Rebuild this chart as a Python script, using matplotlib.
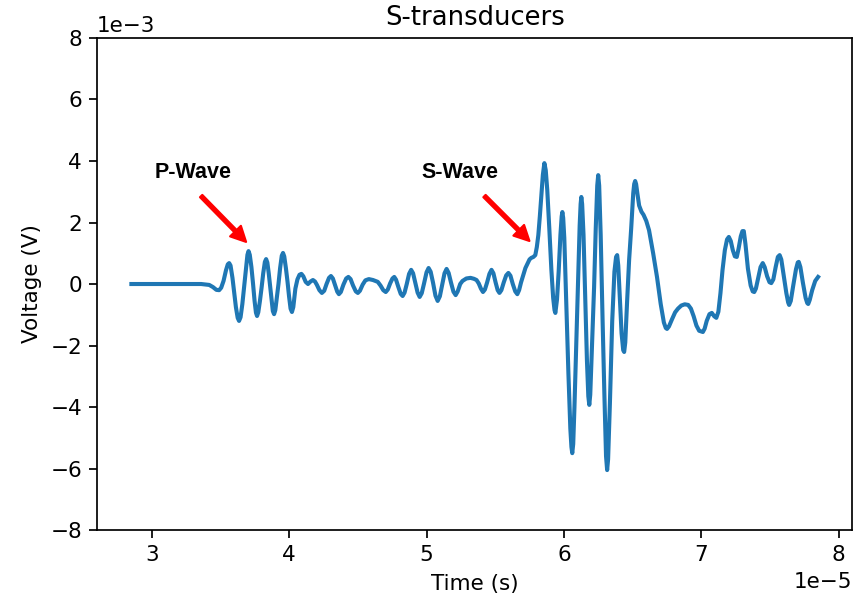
import numpy as np
import matplotlib
matplotlib.use("Agg")
import matplotlib.pyplot as plt

# recorded trace split in parts, time in 1e-5 s and voltage in 1e-3 V
quiet_t = [2.851, 3.142, 3.359, 3.418]
quiet_v = [0.00, 0.00, 0.00, -0.03]

pwave_t = [3.445, 3.470, 3.490, 3.505, 3.522, 3.540, 3.553, 3.563, 3.573, 3.587,
           3.599, 3.612, 3.625, 3.635, 3.646, 3.659, 3.672, 3.685, 3.696, 3.704,
           3.713, 3.725, 3.737, 3.748, 3.758, 3.766, 3.775, 3.787, 3.799, 3.811,
           3.823, 3.832, 3.841, 3.851, 3.861, 3.871, 3.881, 3.890, 3.899, 3.910,
           3.922, 3.934, 3.946, 3.955, 3.964, 3.976, 3.988, 3.999, 4.010, 4.020,
           4.030]
pwave_v = [-0.10, -0.19, -0.20, -0.12, 0.10, 0.45, 0.64, 0.68, 0.60, 0.20,
           -0.25, -0.75, -1.10, -1.20, -1.08, -0.65, -0.08, 0.50, 0.95, 1.07,
           0.95, 0.55, 0.00, -0.55, -0.93, -1.04, -0.92, -0.55, -0.12, 0.35,
           0.72, 0.81, 0.70, 0.35, -0.07, -0.52, -0.88, -0.98, -0.85, -0.45,
           0.00, 0.52, 0.92, 1.01, 0.90, 0.52, 0.07, -0.40, -0.80, -0.91,
           -0.75]

coda_t = [4.045, 4.060, 4.075, 4.089, 4.103, 4.120, 4.137, 4.155, 4.173, 4.188,
          4.202, 4.220, 4.238, 4.255, 4.272, 4.290, 4.304, 4.318, 4.335, 4.350,
          4.362, 4.376, 4.395, 4.415, 4.431, 4.447, 4.465, 4.485, 4.500, 4.515,
          4.535, 4.555, 4.580, 4.610, 4.645, 4.665, 4.685, 4.703, 4.718, 4.735,
          4.752, 4.765, 4.778, 4.795, 4.812, 4.826, 4.840, 4.856, 4.873, 4.888,
          4.902, 4.918, 4.935, 4.950, 4.965, 4.982, 5.000, 5.015, 5.030, 5.047,
          5.065, 5.081, 5.097, 5.113, 5.131, 5.146, 5.161, 5.178, 5.196, 5.212,
          5.227, 5.245, 5.262, 5.290, 5.320, 5.345, 5.364, 5.380, 5.396, 5.411,
          5.425, 5.441, 5.458, 5.473, 5.487, 5.503, 5.518, 5.531, 5.545, 5.562,
          5.580, 5.596, 5.611, 5.628, 5.646, 5.661, 5.674, 5.688, 5.705, 5.720,
          5.734, 5.750, 5.763, 5.778, 5.792]
coda_v = [-0.15, 0.15, 0.30, 0.33, 0.25, 0.07, 0.00, 0.08, 0.13, 0.08,
          -0.03, -0.20, -0.29, -0.22, 0.00, 0.20, 0.26, 0.18, -0.05, -0.25,
          -0.33, -0.26, -0.02, 0.18, 0.23, 0.16, -0.05, -0.24, -0.29, -0.22,
          -0.02, 0.12, 0.16, 0.13, 0.07, -0.05, -0.20, -0.26, -0.18, 0.02,
          0.18, 0.23, 0.14, -0.10, -0.32, -0.39, -0.28, 0.00, 0.33, 0.46,
          0.35, 0.05, -0.28, -0.42, -0.30, 0.02, 0.38, 0.52, 0.40, 0.05,
          -0.38, -0.55, -0.40, -0.05, 0.35, 0.49, 0.36, 0.05, -0.25, -0.36,
          -0.24, 0.00, 0.10, 0.18, 0.20, 0.17, 0.13, 0.02, -0.15, -0.26,
          -0.18, 0.05, 0.33, 0.46, 0.35, 0.05, -0.20, -0.29, -0.20, 0.05,
          0.28, 0.36, 0.27, 0.00, -0.24, -0.33, -0.20, 0.05, 0.30, 0.52,
          0.65, 0.80, 0.85, 0.88, 0.94]

swave_t = [5.803, 5.814, 5.825, 5.836, 5.847, 5.858, 5.868, 5.879, 5.894, 5.909,
           5.922, 5.932, 5.938, 5.950, 5.962, 5.975, 5.984, 5.989, 5.995, 6.003,
           6.018, 6.033, 6.047, 6.055, 6.061, 6.068, 6.077, 6.091, 6.104, 6.115,
           6.122, 6.127, 6.133, 6.143, 6.156, 6.168, 6.178, 6.185, 6.192, 6.205,
           6.220, 6.232, 6.243, 6.250, 6.257, 6.268, 6.282, 6.295, 6.307, 6.315,
           6.322, 6.335, 6.352, 6.368, 6.380, 6.388, 6.396, 6.408, 6.420, 6.432,
           6.439, 6.447, 6.460, 6.475, 6.490, 6.505, 6.512, 6.519, 6.526, 6.535,
           6.548, 6.565, 6.580, 6.600, 6.620]
swave_v = [1.20, 1.59, 2.20, 2.89, 3.55, 3.93, 3.70, 3.06, 1.80, 0.46,
           -0.45, -0.85, -0.94, -0.50, 0.40, 1.60, 2.20, 2.34, 2.15, 1.50,
           -0.70, -2.90, -4.70, -5.30, -5.50, -5.20, -4.00, -1.82, 0.30, 1.90,
           2.60, 2.83, 2.60, 1.60, -0.50, -2.50, -3.65, -3.93, -3.60, -2.00,
           -0.10, 1.80, 3.20, 3.54, 3.20, 1.60, -1.20, -3.60, -5.60, -6.05,
           -5.70, -3.90, -1.20, 0.40, 0.88, 0.94, 0.60, -0.50, -1.60, -2.15,
           -2.21, -1.90, -0.60, 0.78, 1.80, 2.95, 3.25, 3.35, 3.25, 2.95,
           2.55, 2.35, 2.25, 2.05, 1.75]

tail_t = [6.650, 6.678, 6.705, 6.728, 6.742, 6.751, 6.765, 6.787, 6.810, 6.831,
          6.855, 6.880, 6.905, 6.925, 6.945, 6.965, 6.985, 7.012, 7.025, 7.040,
          7.060, 7.077, 7.095, 7.110, 7.125, 7.140, 7.155, 7.172, 7.188, 7.201,
          7.215, 7.230, 7.245, 7.259, 7.272, 7.288, 7.300, 7.310, 7.322, 7.340,
          7.360, 7.375, 7.386, 7.398, 7.415, 7.432, 7.448, 7.462, 7.480, 7.497,
          7.510, 7.525, 7.542, 7.558, 7.571, 7.583, 7.600, 7.620, 7.633, 7.640,
          7.652, 7.670, 7.690, 7.703, 7.710, 7.722, 7.740, 7.760, 7.772, 7.779,
          7.790, 7.808, 7.830, 7.851]
tail_v = [1.00, 0.23, -0.65, -1.25, -1.43, -1.46, -1.38, -1.15, -0.92, -0.80,
          -0.70, -0.66, -0.68, -0.80, -1.05, -1.35, -1.52, -1.56, -1.45, -1.20,
          -0.98, -0.94, -1.05, -1.10, -0.90, -0.30, 0.45, 1.10, 1.45, 1.53,
          1.40, 1.10, 0.90, 0.88, 1.15, 1.55, 1.72, 1.72, 1.30, 0.50,
          -0.05, -0.24, -0.26, -0.15, 0.20, 0.55, 0.68, 0.55, 0.25, 0.06,
          0.03, 0.15, 0.55, 0.88, 0.94, 0.80, 0.30, -0.30, -0.60, -0.68,
          -0.55, -0.05, 0.48, 0.70, 0.72, 0.55, 0.05, -0.45, -0.62, -0.65,
          -0.52, -0.20, 0.10, 0.23]

time = np.concatenate([quiet_t, pwave_t, coda_t, swave_t, tail_t]) * 1e-5
volt = np.concatenate([quiet_v, pwave_v, coda_v, swave_v, tail_v]) * 1e-3

# wave arrival labels: (label, text pos, arrow tail, arrow tip)
arrivals = [
    ("P-Wave", (3.30e-5, 3.64e-3), (3.359e-5, 2.86e-3), (3.686e-5, 1.37e-3)),
    ("S-Wave", (5.24e-5, 3.64e-3), (5.422e-5, 2.86e-3), (5.749e-5, 1.40e-3)),
]

dpi = 155
fig = plt.figure(figsize=(855 / dpi, 603 / dpi), dpi=dpi)
ax = fig.add_axes([0.1135, 0.121, 0.8835, 0.816])

ax.plot(time, volt, color="#1f77b4", linewidth=1.9, solid_joinstyle="round")
ax.set_ylim(-8e-3, 8e-3)
ax.ticklabel_format(axis="both", style="sci", scilimits=(0, 0))

for label, txt, tail, tip in arrivals:
    ax.text(txt[0], txt[1], label, ha="center", va="center", fontsize=10,
            fontweight="bold", family=["Liberation Sans", "DejaVu Sans"])
    ax.annotate("", xy=tip, xytext=tail,
                arrowprops=dict(facecolor="red", edgecolor="red",
                                width=1.5, headwidth=7, headlength=7))

ax.set_title("S-transducers")
ax.set_xlabel("Time (s)")
ax.set_ylabel("Voltage (V)")

fig.savefig("out.png", dpi=dpi)
